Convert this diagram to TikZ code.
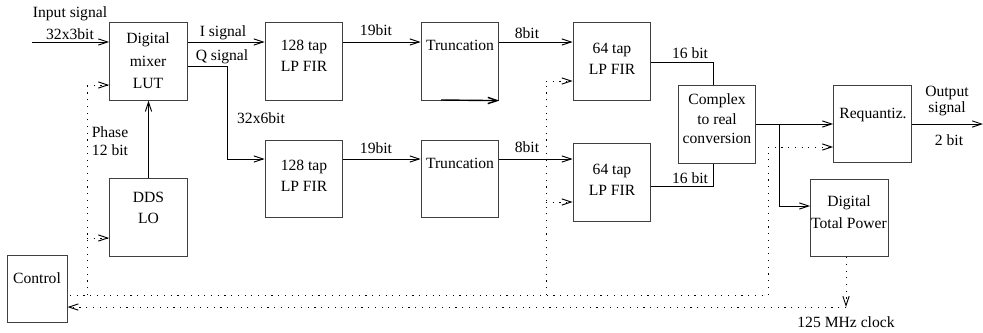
\documentclass[tikz,border=0pt]{standalone}
\usepackage{fontspec}
\setmainfont{Liberation Serif}
\usetikzlibrary{arrows.meta}
\tikzset{
  blk/.style={draw=black!75,line width=0.6pt,inner sep=0pt,minimum width=1.75cm,minimum height=1.74cm},
  lbl/.style={inner sep=0pt,align=center,font=\fontsize{10}{13.5}\selectfont},
  clk/.style={line width=0.6pt,dash pattern=on 0.7pt off 3.6pt},
}
\begin{document}
\begin{tikzpicture}[x=0.0225cm,y=-0.0225cm,line width=0.6pt,>={Straight Barb[length=6pt,width=4pt]}]
\useasboundingbox (0,0) rectangle (983,332);
% blocks
\node [blk,name=mixer] at (148.5,61.5){};
\node [blk,name=dds] at (148.5,217.5){};
\node [blk,name=ctrl,minimum width=1.33cm,minimum height=1.49cm] at (37.5,289){};
\node [blk,name=fir1] at (304,61.5){};
\node [blk,name=fir2] at (304,179){};
\node [blk,name=trunc1] at (460,61.5){};
\node [blk,name=trunc2] at (460,179){};
\node [blk,name=fir3] at (612,61.5){};
\node [blk,name=fir4] at (612,182.5){};
\node [blk,name=cmplx] at (717,124.5){};
\node [blk,name=requ] at (872.5,124){};
\node [blk,name=dtp] at (849.5,218){};
% block texts
\node [lbl,name=mixertxt,font=\fontsize{10}{14.4}\selectfont] at (148,61){Digital\\mixer\\LUT};
\node [lbl,name=ddstxt] at (148.5,208){DDS\\LO};
\node [lbl,name=ctrltxt] at (37,278){Control};
\node [lbl,name=fir1txt] at (304,56){128 tap\\LP FIR};
\node [lbl,name=fir2txt] at (304,176){128 tap\\LP FIR};
\node [lbl,name=trunc1txt] at (460,45){Truncation};
\node [lbl,name=trunc2txt] at (460,163){Truncation};
\node [lbl,name=fir3txt] at (612,59){64 tap\\LP FIR};
\node [lbl,name=fir4txt] at (612,180){64 tap\\LP FIR};
\node [lbl,name=cmplxtxt,font=\fontsize{10}{12.5}\selectfont] at (717,119){Complex\\to real\\conversion};
\node [lbl,name=requtxt] at (873,115){Requantiz.};
\node [lbl,name=dtptxt,font=\fontsize{10}{14}\selectfont] at (849,212){Digital\\Total Power};
% signal labels
\node [lbl,name=insig] at (70,14){Input signal};
\node [lbl,name=inbits] at (70,34){32x3bit};
\node [lbl,name=isig] at (223,33){I signal};
\node [lbl,name=qsig] at (222,57){Q signal};
\node [lbl,name=qbits] at (261,118){32x6bit};
\node [lbl,name=phase] at (110,132){Phase};
\node [lbl,name=phbits] at (110,150){12 bit};
\node [lbl,name=bits19a] at (376,30){19bit};
\node [lbl,name=bits19b] at (376,148){19bit};
\node [lbl,name=bits8a] at (527,33){8bit};
\node [lbl,name=bits8b] at (527,147){8bit};
\node [lbl,name=bits16a] at (690,53){16 bit};
\node [lbl,name=bits16b] at (690,178){16 bit};
\node [lbl,name=outsig,font=\fontsize{10}{10.5}\selectfont] at (947,101){Output\\signal};
\node [lbl,name=outbits] at (949,140){2 bit};
\node [lbl,name=clock] at (846,322){125 MHz clock};
% coordinates
\coordinate (inp) at (32,42);
\coordinate (row1) at (0,42);
\coordinate (row2) at (0,159);
\coordinate (row3) at (0,124);
\coordinate (qs) at (227,66);
\coordinate (tb) at (441,100);
\coordinate (c1) at (713,62);
\coordinate (c2) at (713,186);
\coordinate (br) at (779,124);
\coordinate (br2) at (779,206);
\coordinate (outp) at (983,124);
\coordinate (bus) at (70,295);
\coordinate (t1) at (87,85);
\coordinate (t2) at (87,238);
\coordinate (t3) at (546,81);
\coordinate (t4) at (546,202);
\coordinate (t5) at (768,147);
\coordinate (b1) at (87,295);
\coordinate (b3) at (546,295);
\coordinate (b5) at (768,295);
\coordinate (ck) at (846,307);
% signal path
\draw[->] (inp)--(inp -| mixer.west);
\draw[->] (mixer.east |- row1)--(fir1.west |- row1);
\draw[->] (fir1.east |- row1)--(trunc1.west |- row1);
\draw[->] (trunc1.east |- row1)--(fir3.west |- row1);
\draw[->] (mixer.east |- qs)--(qs)|-(fir2.west |- row2);
\draw[->] (fir2.east |- row2)--(trunc2.west |- row2);
\draw[->] (trunc2.east |- row2)--(fir4.west |- row2);
\draw[->,line width=0.9pt] (tb)--(trunc1.south east);
\draw[->] (dds.north)--(mixer.south);
\draw (fir3.east |- c1)--(c1)--(c1 |- cmplx.north);
\draw (fir4.east |- c2)--(c2)--(c2 |- cmplx.south);
\draw[->] (cmplx.east |- row3)--(requ.west |- row3);
\draw[->] (br)--(br2)--(br2 -| dtp.west);
\draw[->] (requ.east |- row3)--(outp);
% control and clock
\draw[clk] (bus)--(b5)--(t5);
\draw[clk,->] (t5)--(t5 -| requ.west);
\draw[clk] (b1)--(t1);
\draw[clk,->] (t1)--(t1 -| mixer.west);
\draw[clk,->] (t2)--(t2 -| dds.west);
\draw[clk] (b3)--(t3);
\draw[clk,->] (t3)--(t3 -| fir3.west);
\draw[clk,->] (t4)--(t4 -| fir4.west);
\draw[clk,->] (ck |- dtp.south)--(ck);
\draw[clk,->] (ck)--(ck -| ctrl.east);
\end{tikzpicture}
\end{document}
